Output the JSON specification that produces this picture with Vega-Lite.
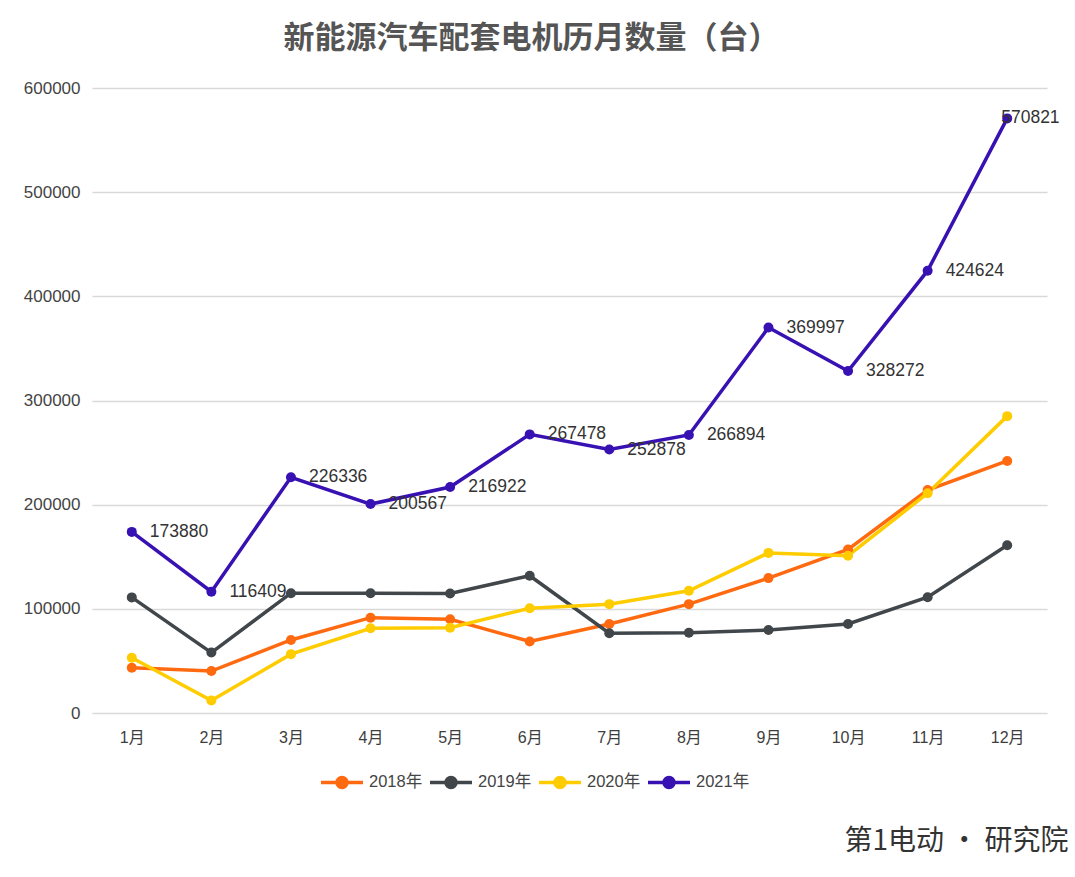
{
  "$schema": "https://vega.github.io/schema/vega-lite/v6.json",
  "autosize": "none",
  "width": 955,
  "height": 625,
  "padding": {"left": 92, "top": 88, "right": 28, "bottom": 164},
  "background": "white",
  "config": {"view": {"stroke": null}},
  "title": {
    "text": "新能源汽车配套电机历月数量（台）",
    "font": "Noto Sans CJK SC",
    "fontSize": 31,
    "fontWeight": "bold",
    "color": "#555555",
    "anchor": "middle",
    "dx": -38,
    "offset": 24
  },
  "data": {
    "values": [
      {"month": "1月", "series": "2018年", "value": 43500},
      {"month": "2月", "series": "2018年", "value": 40300},
      {"month": "3月", "series": "2018年", "value": 70100},
      {"month": "4月", "series": "2018年", "value": 91500},
      {"month": "5月", "series": "2018年", "value": 90000},
      {"month": "6月", "series": "2018年", "value": 68700},
      {"month": "7月", "series": "2018年", "value": 85500},
      {"month": "8月", "series": "2018年", "value": 104500},
      {"month": "9月", "series": "2018年", "value": 129500},
      {"month": "10月", "series": "2018年", "value": 157000},
      {"month": "11月", "series": "2018年", "value": 214000},
      {"month": "12月", "series": "2018年", "value": 242000},
      {"month": "1月", "series": "2019年", "value": 111000},
      {"month": "2月", "series": "2019年", "value": 58000},
      {"month": "3月", "series": "2019年", "value": 115000},
      {"month": "4月", "series": "2019年", "value": 115000},
      {"month": "5月", "series": "2019年", "value": 114800},
      {"month": "6月", "series": "2019年", "value": 131800},
      {"month": "7月", "series": "2019年", "value": 76600},
      {"month": "8月", "series": "2019年", "value": 77000},
      {"month": "9月", "series": "2019年", "value": 79700},
      {"month": "10月", "series": "2019年", "value": 85500},
      {"month": "11月", "series": "2019年", "value": 111200},
      {"month": "12月", "series": "2019年", "value": 161000},
      {"month": "1月", "series": "2020年", "value": 53000},
      {"month": "2月", "series": "2020年", "value": 12000},
      {"month": "3月", "series": "2020年", "value": 56500},
      {"month": "4月", "series": "2020年", "value": 81300},
      {"month": "5月", "series": "2020年", "value": 81900},
      {"month": "6月", "series": "2020年", "value": 100600},
      {"month": "7月", "series": "2020年", "value": 104500},
      {"month": "8月", "series": "2020年", "value": 117300},
      {"month": "9月", "series": "2020年", "value": 153700},
      {"month": "10月", "series": "2020年", "value": 151000},
      {"month": "11月", "series": "2020年", "value": 211000},
      {"month": "12月", "series": "2020年", "value": 285000},
      {"month": "1月", "series": "2021年", "value": 173880},
      {"month": "2月", "series": "2021年", "value": 116409},
      {"month": "3月", "series": "2021年", "value": 226336},
      {"month": "4月", "series": "2021年", "value": 200567},
      {"month": "5月", "series": "2021年", "value": 216922},
      {"month": "6月", "series": "2021年", "value": 267478},
      {"month": "7月", "series": "2021年", "value": 252878},
      {"month": "8月", "series": "2021年", "value": 266894},
      {"month": "9月", "series": "2021年", "value": 369997},
      {"month": "10月", "series": "2021年", "value": 328272},
      {"month": "11月", "series": "2021年", "value": 424624},
      {"month": "12月", "series": "2021年", "value": 570821}
    ]
  },
  "encoding": {
    "x": {
      "field": "month",
      "type": "ordinal",
      "sort": ["1月","2月","3月","4月","5月","6月","7月","8月","9月","10月","11月","12月"],
      "scale": {"type": "point", "padding": 0.5},
      "axis": {
        "labelAngle": 0,
        "domain": false,
        "ticks": false,
        "grid": false,
        "labelPadding": 16,
        "labelFont": "Liberation Sans, Noto Sans CJK SC",
        "labelFontSize": 16,
        "labelColor": "#3d3d3d",
        "title": "第1电动 · 研究院",
        "titleFont": "Noto Sans CJK SC",
        "titleFontSize": 28,
        "titleFontWeight": "normal",
        "titleColor": "#333333",
        "titleAnchor": "end",
        "titleAlign": "right",
        "titleBaseline": "middle",
        "titleX": 976,
        "titleY": 128
      }
    },
    "y": {
      "field": "value",
      "type": "quantitative",
      "scale": {"domain": [0, 600000]},
      "axis": {
        "title": null,
        "values": [0, 100000, 200000, 300000, 400000, 500000, 600000],
        "format": "d",
        "domain": false,
        "ticks": false,
        "labelPadding": 12,
        "labelFont": "Liberation Sans",
        "labelFontSize": 17,
        "labelColor": "#444444",
        "gridColor": "#d9d9d9",
        "gridWidth": 1.5
      }
    }
  },
  "layer": [
    {
      "mark": {"type": "line", "strokeWidth": 3.5, "point": {"filled": true, "size": 100}},
      "encoding": {
        "color": {
          "field": "series",
          "type": "nominal",
          "scale": {
            "domain": ["2018年", "2019年", "2020年", "2021年"],
            "range": ["#ff6a10", "#40464a", "#ffcc00", "#3811b3"]
          },
          "legend": {
            "orient": "none",
            "legendX": 227,
            "legendY": 671,
            "direction": "horizontal",
            "title": null,
            "symbolType": "M-1,0L1,0M0.24,0A0.24,0.24,0,1,1,-0.24,0A0.24,0.24,0,1,1,0.24,0Z",
            "symbolSize": 1764,
            "symbolStrokeWidth": 3.5,
            "labelFont": "Liberation Sans, Noto Sans CJK SC",
            "labelFontSize": 16.5,
            "labelColor": "#444444",
            "labelOffset": 4,
            "columnPadding": 0,
            "encode": {
              "symbols": {
                "update": {
                  "fill": {"scale": "color", "field": "value"},
                  "stroke": {"scale": "color", "field": "value"}
                }
              }
            }
          }
        }
      }
    },
    {
      "transform": [{"filter": "datum.series === '2021年' && datum.month !== '12月'"}],
      "mark": {
        "type": "text",
        "align": "left",
        "baseline": "middle",
        "dx": 18,
        "font": "Liberation Sans",
        "fontSize": 17.5,
        "color": "#333333"
      },
      "encoding": {
        "text": {"field": "value", "type": "quantitative", "format": "d"}
      }
    },
    {
      "transform": [{"filter": "datum.series === '2021年' && datum.month === '12月'"}],
      "mark": {
        "type": "text",
        "align": "left",
        "baseline": "middle",
        "dx": -6,
        "font": "Liberation Sans",
        "fontSize": 17.5,
        "color": "#333333"
      },
      "encoding": {
        "text": {"field": "value", "type": "quantitative", "format": "d"}
      }
    }
  ]
}
